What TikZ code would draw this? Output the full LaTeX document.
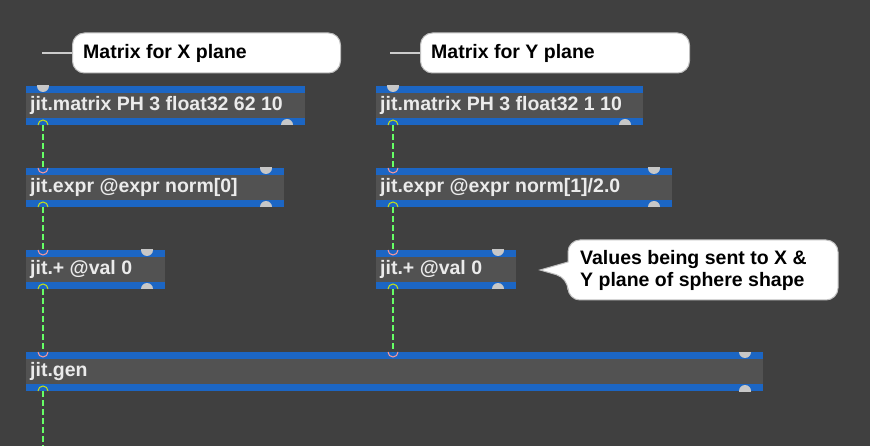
\documentclass[tikz,border=0pt]{standalone}
\usepackage{fontspec}
\setmainfont{Liberation Sans}
\definecolor{maxblue}{RGB}{28,102,196}
\begin{document}
\begin{tikzpicture}[x=1pt,y=-1pt,
  txt/.style={font=\bfseries\fontsize{19.5}{23}\selectfont, inner sep=0pt},
  obj/.style={txt, text=white!92!black, anchor=west},
  cmt/.style={draw=black!25, fill=white, rounded corners=12pt, line width=1pt},
  cord/.style={draw=green!60!white, line width=2.4pt, dash pattern=on 6pt off 3pt},
  port/.style={fill=black!22},
]
\fill[black!75] (0,0) rectangle (870,446);
\useasboundingbox (0,0) rectangle (870,446);
\newcommand{\maxobj}[6]{% name, x1, y1, x2, text, ports
  \fill[maxblue] (#2,#3) rectangle (#4,#3+39);
  \fill[black!68] (#2,#3+7) rectangle (#4,#3+32);
  \node[obj] (#1) at (#2+4,#3+19.5) {#5};
  \coordinate (#1-in) at (#2+17,#3);
  \coordinate (#1-out) at (#2+17,#3+39);
  \begin{scope}
  \clip (#2,#3) rectangle (#4,#3+39);
  #6
  \end{scope}
}
\maxobj{mx}{26}{86}{305}{jit.matrix PH 3 float32 62 10}{
  \fill[port] (43,86) circle (6); \fill[port] (287,125) circle (6);}
\maxobj{my}{376}{86}{643}{jit.matrix PH 3 float32 1 10}{
  \fill[port] (393,86) circle (6); \fill[port] (625,125) circle (6);}
\maxobj{ex}{26}{168}{284}{jit.expr @expr norm[0]}{
  \fill[port] (266,168) circle (6); \fill[port] (266,207) circle (6);}
\maxobj{ey}{376}{168}{672}{jit.expr @expr norm[1]/2.0}{
  \fill[port] (654,168) circle (6); \fill[port] (654,207) circle (6);}
\maxobj{px}{26}{250}{165}{jit.+ @val 0}{
  \fill[port] (147,250) circle (6); \fill[port] (147,289) circle (6);}
\maxobj{py}{376}{250}{516}{jit.+ @val 0}{
  \fill[port] (498,250) circle (6); \fill[port] (498,289) circle (6);}
\maxobj{gen}{26}{352}{763}{jit.gen}{
  \fill[port] (745,352) circle (6); \fill[port] (745,391) circle (6);}
\coordinate (geny) at (393,352);
\coordinate (end) at (43,446);
\foreach \a/\b in {mx-out/ex-in, ex-out/px-in, px-out/gen-in, my-out/ey-in, ey-out/py-in}
  \draw[cord] (\a) -- (\b);
\draw[cord] (py-out) -- (geny);
\draw[cord] (gen-out) -- (end);
\foreach \p in {mx-out,ex-out,px-out,my-out,ey-out,py-out,gen-out}
  \draw[yellow!80!green, line width=1pt] ([xshift=-5pt]\p) arc[start angle=180,end angle=0,radius=5pt];
\foreach \p in {ex-in,px-in,gen-in,ey-in,py-in,geny}
  \draw[red!40!white, line width=1pt] ([xshift=-5pt]\p) arc[start angle=180,end angle=360,radius=5pt];
% comments
\node[cmt, minimum width=268pt, minimum height=40pt, anchor=west] (cx) at (72,53) {};
\node[txt, anchor=west] at (83,53) {Matrix for X plane};
\coordinate (lx) at (42,53);
\draw[black!20, line width=1.2pt] (lx) -- (cx.west);
\node[cmt, minimum width=269pt, minimum height=40pt, anchor=west] (cy) at (420,53) {};
\node[txt, anchor=west] at (431,53) {Matrix for Y plane};
\coordinate (ly) at (390,53);
\draw[black!20, line width=1.2pt] (ly) -- (cy.west);
% callout
\filldraw[draw=black!25, fill=white, line width=1pt, rounded corners=12pt]
  (568,240) -- (838,240) -- (838,300) -- (568,300) -- (568,278) [sharp corners] -- (540,270) -- (568,262) [rounded corners=12pt] -- cycle;
\node[txt, anchor=west, align=left, font=\bfseries\fontsize{19.5}{22}\selectfont] at (580,270) {Values being sent to X \&\\Y plane of sphere shape};
\end{tikzpicture}
\end{document}
